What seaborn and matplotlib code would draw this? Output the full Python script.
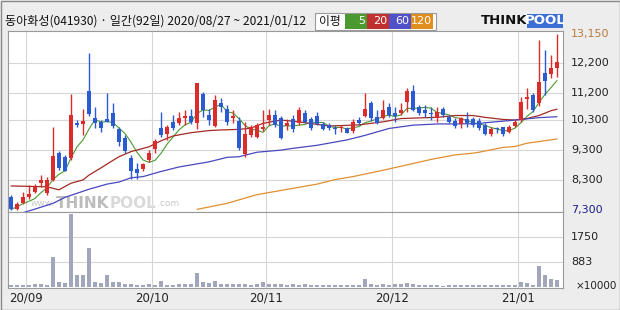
import numpy as np
import pandas as pd
import matplotlib
matplotlib.use("Agg")
import matplotlib.pyplot as plt
from matplotlib.patches import Rectangle
from matplotlib.transforms import blended_transform_factory
import seaborn as sns

# ---------------- data ----------------
title = "동아화성(041930) · 일간(92일) 2020/08/27 ~ 2021/01/12"

open_ = [7740, 7320, 7540, 7720, 7910, 8210, 7850, 8300, 9180, 9050,
         9020, 10190, 10160, 11270, 10350, 10240, 10330, 10530, 9980, 9700,
         9020, 8650, 8650, 8960, 9320, 10020, 9830, 10240, 10200, 10370,
         10420, 10200, 11140, 10460, 10090, 10870, 10650, 10350, 10260, 9160,
         9780, 9740, 9980, 10290, 10460, 10350, 10090, 10320, 10200, 10510,
         10330, 10420, 10170, 10120, 10040, 10020, 10020, 9940, 10290, 10420,
         10860, 10380, 10360, 10730, 10530, 10520, 10900, 11250, 10710, 10640,
         10520, 10350, 10650, 10390, 10260, 10160, 10320, 10320, 10250, 10130,
         9830, 10020, 10050, 9900, 10090, 10290, 10990, 11120, 10850, 11850,
         11820, 12010]
high = [7800, 7580, 7910, 8130, 8160, 8460, 8400, 10070, 9260, 9130,
        11160, 10290, 10650, 12530, 10730, 10290, 11180, 10870, 10060, 9790,
        9130, 8860, 8860, 9290, 9650, 10570, 10130, 10460, 10570, 10620,
        10650, 11520, 11230, 10650, 11120, 11010, 10790, 10620, 10400, 10210,
        10130, 10180, 10620, 10650, 10620, 10420, 10320, 10460, 10730, 10620,
        10400, 10570, 10240, 10180, 10130, 10120, 10070, 10320, 10400, 11180,
        10930, 10620, 10960, 10850, 10730, 10850, 11350, 11450, 10790, 10790,
        10730, 10710, 10730, 10460, 10350, 10400, 10570, 10400, 10350, 10180,
        10070, 10070, 10070, 10130, 10290, 11060, 11340, 11200, 12950, 12620,
        12450, 13150]
low = [7300, 7310, 7500, 7680, 7870, 8070, 7800, 8260, 8630, 8600,
       8960, 10060, 9790, 10420, 10020, 9890, 10220, 10020, 9430, 9190,
       8330, 8320, 8610, 8900, 9190, 9740, 9630, 9960, 10130, 10130,
       10160, 9980, 10400, 10140, 10050, 10570, 10130, 10190, 9290, 9050,
       9730, 9690, 9910, 10140, 10070, 9650, 9960, 9900, 10140, 10180,
       9960, 10120, 9960, 9960, 9830, 9900, 9850, 9850, 10120, 10380,
       10270, 10160, 10310, 10400, 10240, 10460, 10570, 10600, 10460, 10400,
       10290, 10240, 10380, 10180, 10020, 10020, 10070, 10070, 9960, 9790,
       9760, 9850, 9760, 9870, 10050, 10220, 10670, 10570, 10760, 11120,
       11680, 11720]
close = [7320, 7490, 7720, 7830, 8050, 8300, 8300, 9100, 8690, 8610,
         10460, 10140, 10250, 10490, 10200, 10020, 10240, 10090, 9570, 9270,
         8610, 8540, 8820, 9180, 9590, 9790, 10050, 10020, 10370, 10420,
         10220, 11510, 10610, 10290, 10960, 10720, 10240, 10420, 9350, 9830,
         10060, 10110, 10050, 10460, 10130, 9680, 10180, 10000, 10620, 10240,
         10030, 10150, 10000, 10020, 10000, 10070, 9870, 10220, 10200, 10650,
         10350, 10200, 10610, 10460, 10420, 10620, 11270, 10620, 10510, 10530,
         10490, 10570, 10460, 10240, 10090, 10350, 10200, 10140, 10040, 9830,
         9980, 9980, 9830, 10070, 10240, 10900, 11040, 10620, 11560, 11600,
         12010, 12230]
volume = [47, 47, 71, 71, 83, 107, 71, 1066, 178, 118,
          2581, 414, 414, 1385, 178, 142, 414, 178, 178, 83,
          95, 71, 47, 95, 71, 201, 71, 71, 95, 83,
          95, 497, 178, 118, 201, 95, 95, 95, 95, 95,
          71, 95, 178, 107, 107, 95, 71, 95, 71, 95,
          59, 59, 47, 47, 47, 47, 47, 71, 59, 272,
          95, 71, 95, 47, 83, 107, 142, 107, 59, 47,
          47, 47, 36, 71, 47, 47, 47, 47, 59, 47,
          47, 47, 47, 59, 59, 178, 118, 71, 734, 414,
          272, 249]  # x10000

# moving averages (index of candle, value)
ma20_idx = [0, 6, 8, 10, 12, 13, 15, 17, 18, 20, 23, 25, 27, 30, 33, 35, 38, 40, 42,
            45, 48, 53, 58, 62, 65, 68, 71, 74, 77, 79, 82, 84, 86, 88, 90, 91]
ma20_val = [8100, 8070, 7970, 8190, 8300, 8460, 8700, 8950, 9070, 9240, 9400, 9600, 9760,
            9870, 9940, 9960, 9980, 10020, 10180, 10290, 10230, 10090, 10130, 10230, 10340,
            10360, 10380, 10440, 10440, 10380, 10310, 10290, 10340, 10440, 10600, 10650]
ma60_idx = [0, 4, 7, 9, 13, 16, 18, 20, 22, 25, 28, 33, 36, 38, 41, 45, 47, 51, 56, 57,
            59, 63, 67, 71, 74, 78, 79, 83, 85, 88, 91]
ma60_val = [7090, 7330, 7520, 7720, 7990, 8160, 8230, 8370, 8410, 8580, 8730, 8900, 9050,
            9070, 9220, 9290, 9350, 9450, 9630, 9680, 9780, 10010, 10120, 10160, 10160,
            10170, 10200, 10270, 10310, 10370, 10400]
ma120_idx = [31, 36, 41, 47, 51, 54, 57, 62, 68, 70, 74, 77, 78, 82, 84, 86, 91]
ma120_val = [7320, 7520, 7810, 8020, 8160, 8310, 8410, 8620, 8890, 8980, 9130, 9190, 9220,
             9380, 9410, 9520, 9660]

month_first_idx = [3, 24, 43, 64, 85]
month_labels = ["20/09", "20/10", "20/11", "20/12", "21/01"]
price_grid = [12200, 11200, 10300, 9300, 8300]
price_label_vals = [13150, 12200, 11200, 10300, 9300, 8300, 7300]
price_labels = ["13,150", "12,200", "11,200", "10,300", "9,300", "8,300", "7,300"]
vol_grid = [1750, 883]
vol_labels = ["1750", "883"]
legend_items = ["5", "20", "60", "120"]

# ---------------- style ----------------
sns.set_theme(style="white")
plt.rcParams['font.family'] = ['Noto Sans CJK KR', 'DejaVu Sans']

UP = '#dc2b2b'
DOWN = '#2b5bd3'
C5, C20, C60, C120 = '#4a9a30', '#a32a22', '#4848c0', '#e09030'
BG = '#ededed'
GRID = '#d6d6d6'

W, H = 620, 310
fig = plt.figure(figsize=(6.2, 3.1), dpi=100, facecolor=BG)


def fx(px):
    return px / W


def fy(py):
    return 1 - py / H


def frect(x0, y0, x1, y1, **kw):
    r = Rectangle((fx(x0), fy(y1)), fx(x1) - fx(x0), fy(y0) - fy(y1),
                  transform=fig.transFigure, **kw)
    fig.patches.append(r)
    return r


L, R = 8, 563
ax = fig.add_axes([fx(L), fy(212), fx(R) - fx(L), fy(31) - fy(212)])
axv = fig.add_axes([fx(L), fy(288), fx(R) - fx(L), fy(212) - fy(288)], sharex=ax)

n = len(close)
x = np.arange(n)
o = np.array(open_, float)
c = np.array(close, float)
h = np.array(high, float)
lo = np.array(low, float)
colors = [UP if cc >= oo else DOWN for oo, cc in zip(o, c)]

# wicks and bodies
ax.vlines(x, lo, h, colors=colors, linewidth=1.0, zorder=3)
body_bottom = np.minimum(o, c)
body_h = np.maximum(np.abs(c - o), 35)
ax.bar(x, body_h, bottom=body_bottom, width=0.72, color=colors, linewidth=0, zorder=4)

# moving averages
ma5 = pd.Series(c).rolling(5, min_periods=1).mean()
sns.lineplot(x=x, y=ma5.values, ax=ax, color=C5, linewidth=0.8, zorder=2, legend=False)
sns.lineplot(x=ma20_idx, y=ma20_val, ax=ax, color=C20, linewidth=0.9, zorder=2, legend=False)
sns.lineplot(x=ma60_idx, y=ma60_val, ax=ax, color=C60, linewidth=0.9, zorder=2, legend=False)
sns.lineplot(x=ma120_idx, y=ma120_val, ax=ax, color=C120, linewidth=0.9, zorder=2, legend=False)

ax.set_xlim(-0.5, 92)
ax.set_ylim(7233, 13250)
ax.set_yticks(price_grid)
ax.set_xticks([m - 0.5 for m in month_first_idx])
ax.grid(True, color=GRID, linewidth=0.8)
ax.set_axisbelow(True)
ax.tick_params(labelbottom=False, labelleft=False, length=0)
ax.set_xlabel("")
ax.set_ylabel("")
ax.set_facecolor('white')
for s in ax.spines.values():
    s.set_color('#9a9a9a')
    s.set_linewidth(0.8)

# volume
axv.bar(x, volume, width=0.7, color='#a2a6ba', linewidth=0, zorder=3)
axv.set_ylim(-46, 2654)
axv.set_yticks(vol_grid)
axv.grid(True, color=GRID, linewidth=0.8)
axv.set_axisbelow(True)
axv.tick_params(labelbottom=False, labelleft=False, length=0)
axv.set_facecolor('white')
for s in axv.spines.values():
    s.set_color('#9a9a9a')
    s.set_linewidth(0.8)

# right-side price labels
tr = blended_transform_factory(fig.transFigure, ax.transData)
lab_colors = ['#b87a3a'] + ['#222222'] * 5 + ['#1c1c8a']
for v, t, col in zip(price_label_vals, price_labels, lab_colors):
    ax.text(fx(571), v, t, transform=tr, ha='left', va='center', fontsize=8,
            color=col, family='DejaVu Sans', clip_on=False)
trv = blended_transform_factory(fig.transFigure, axv.transData)
for v, t in zip(vol_grid, vol_labels):
    axv.text(fx(571), v, t, transform=trv, ha='left', va='center', fontsize=8,
             color='#222222', family='DejaVu Sans', clip_on=False)
fig.text(fx(576), fy(286), "×10000", ha='left', va='center', fontsize=7.5,
         color='#222222', family='DejaVu Sans')

# month labels
trx = blended_transform_factory(axv.transData, fig.transFigure)
for m, t in zip(month_first_idx, month_labels):
    axv.text(m - 0.5, fy(298), t, transform=trx, ha='center', va='center',
             fontsize=8.5, color='#222222', family='DejaVu Sans', clip_on=False)

# header
fig.text(fx(5), fy(21), title, ha='left', va='center', fontsize=8.7, color='#111111')

frect(315, 13, 436, 30, facecolor='white', edgecolor='#9a9a9a', linewidth=0.8)
fig.text(fx(319), fy(21.5), "이평", ha='left', va='center', fontsize=8.5, color='#111111')
box_cols = [C5, '#c03030', '#5050c8', '#e08e1c']
bx = [345, 367, 389, 411, 433]
for i, (t, col) in enumerate(zip(legend_items, box_cols)):
    frect(bx[i], 14.5, bx[i + 1], 28.5, facecolor=col, edgecolor='none')
    fig.text(fx(bx[i + 1] - 1.5), fy(21.5), t, ha='right', va='center', fontsize=8,
             color='white', family='DejaVu Sans')

fig.text(fx(481), fy(21), "THINK", ha='left', va='center', fontsize=9.5, weight='bold',
         color='#111111', family='DejaVu Sans')
frect(527, 14, 563, 28, facecolor='#3b6fd6', edgecolor='none')
fig.text(fx(545), fy(21), "POOL", ha='center', va='center', fontsize=9.5, weight='bold',
         color='white', family='DejaVu Sans')

# watermark, pieces placed one after another
fig.canvas.draw()
renderer = fig.canvas.get_renderer()
wm_parts = [("www.", 6.5, 'normal', '#c8c8c8'), ("THINK", 11, 'bold', '#bcbcbc'),
            ("POOL", 11, 'bold', '#d9d9d9'), (".com", 6.5, 'normal', '#c8c8c8')]
cur = 31.0
for t, fs, wt, col in wm_parts:
    tx = fig.text(fx(cur), fy(203), t, ha='left', va='center', fontsize=fs, weight=wt,
                  color=col, family='DejaVu Sans', zorder=0.5)
    ext = tx.get_window_extent(renderer)
    cur += ext.width + 0.5
    tx.remove()
    ax.text(fx(cur - ext.width - 0.5), fy(203), t, transform=fig.transFigure, ha='left',
            va='center', fontsize=fs, weight=wt, color=col, family='DejaVu Sans', zorder=1)

# outer frame
frect(0.5, 0.5, 619.5, 309.5, facecolor='none', edgecolor='#8a8a8a', linewidth=1)

fig.savefig("out.png", dpi=100, facecolor=fig.get_facecolor())
